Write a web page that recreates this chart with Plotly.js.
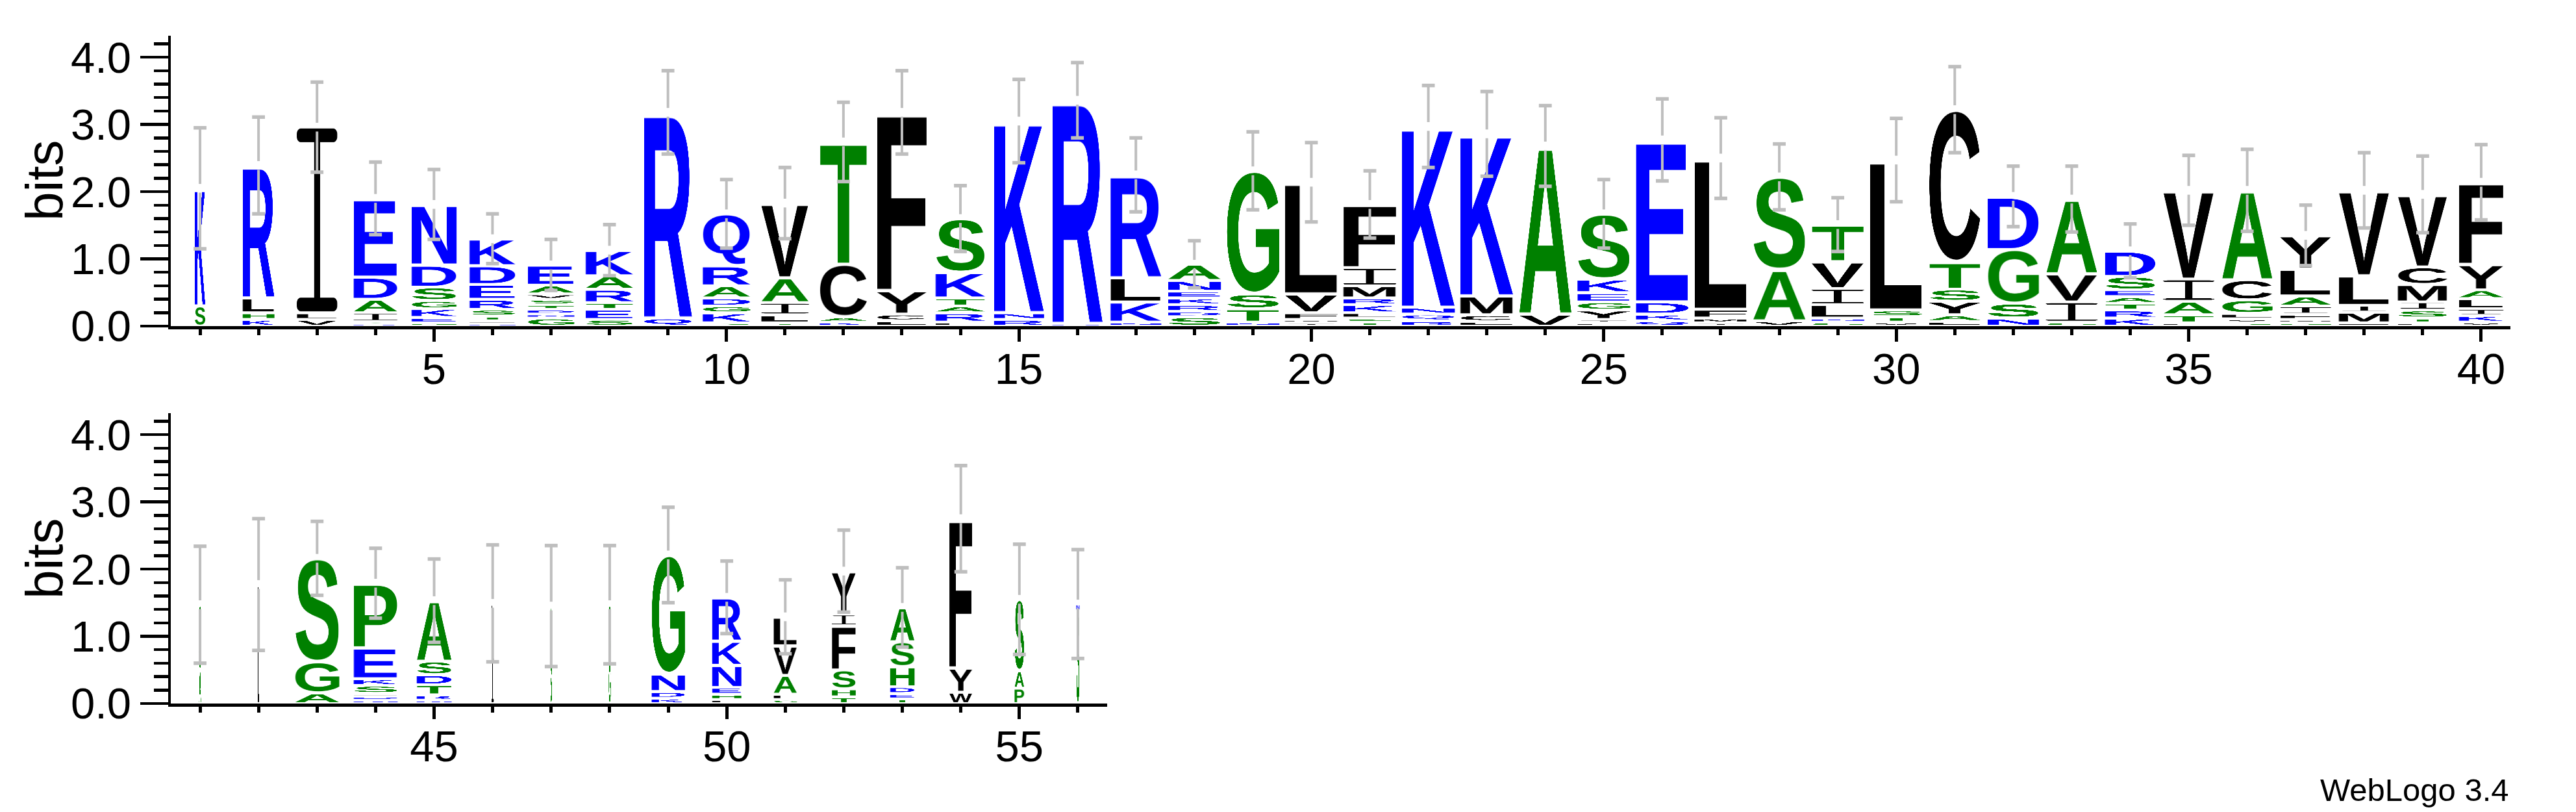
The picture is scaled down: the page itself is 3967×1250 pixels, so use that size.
<!DOCTYPE html>
<html><head><meta charset="utf-8">
<script src="https://cdn.plot.ly/plotly-3.0.1.min.js"></script>
<style>html,body{margin:0;padding:0;background:#fff;}#chart{width:3967px;height:1250px;}</style>
</head><body><div id="chart"></div>
<script>
// ---- data (letters listed bottom -> top, heights in bits) ----
const positions = [1,2,3,4,5,6,7,8,9,10,11,12,13,14,15,16,17,18,19,20,21,22,23,24,25,26,27,28,29,30,31,32,33,34,35,36,37,38,39,40,
                   41,42,43,44,45,46,47,48,49,50,51,52,53,54,55,56];
const stackLetters = ["SK","KHLR","VLI","KSIADE","GEKGSDN","NLTSREDK","GNDTSVAE","SETRAK","QR","SKGDARQ",
  "TLIAV","KACT","LCYF","LRATKS","RNK","KR","NKLR","SDRKENA","NTSG","IMFVL",
  "TSLKRMIF","RQNK","LCMK","VA","LIYGEKS","QKDE","IMFL","VAS","SNLIVT","VTSL",
  "LAYSTC","NSGD","SIVA","KRTAESD","LTAIV","SVLGCA","GMFIALY","FMILV","LTSIMCV","VKILAYF",
  "AS","LV","AGS","NDLSKEP","NRTDSA","IL","SA","GS","KDNG","LHENKR","GFAVL","THSFIY","TEDHSA","WYF","PAS","SN"];
const stackBits = [
  [0.30,1.75],[0.10,0.10,0.22,1.97],[0.10,0.10,2.76],[0.04,0.03,0.13,0.20,0.33,1.17],[0.05,0.08,0.13,0.12,0.20,0.33,0.90],
  [0.04,0.04,0.07,0.10,0.15,0.22,0.28,0.40],[0.12,0.06,0.07,0.07,0.08,0.08,0.13,0.30],[0.10,0.15,0.10,0.20,0.20,0.38],[0.12,3.06],[0.05,0.15,0.10,0.12,0.18,0.30,0.77],
  [0.05,0.12,0.18,0.37,1.11],[0.06,0.08,0.78,1.82],[0.08,0.10,0.35,2.65],[0.06,0.14,0.10,0.12,0.38,0.80],[0.10,0.10,2.85],
  [0.04,3.32],[0.06,0.30,0.36,1.53],[0.14,0.08,0.10,0.10,0.10,0.16,0.24],[0.06,0.20,0.22,1.83],[0.05,0.05,0.10,0.28,1.66],
  [0.06,0.06,0.08,0.12,0.10,0.18,0.27,0.94],[0.08,0.10,0.10,2.69],[0.07,0.10,0.28,2.41],[0.18,2.50],[0.05,0.05,0.14,0.12,0.14,0.20,0.97],
  [0.08,0.10,0.18,2.41],[0.05,0.07,0.13,2.25],[0.08,0.76,1.38],[0.06,0.06,0.20,0.24,0.40,0.55],[0.06,0.08,0.10,2.23],
  [0.07,0.10,0.20,0.18,0.40,2.27],[0.12,0.22,0.80,0.79],[0.06,0.30,0.42,1.11],[0.12,0.12,0.10,0.10,0.10,0.20,0.38],[0.05,0.12,0.20,0.33,1.32],
  [0.05,0.06,0.08,0.20,0.30,1.33],[0.05,0.05,0.08,0.12,0.15,0.40,0.50],[0.05,0.16,0.10,0.44,1.27],[0.05,0.07,0.12,0.12,0.26,0.26,1.08],[0.06,0.10,0.10,0.15,0.13,0.38,1.22],
  [0.50,0.97],[0.80,0.97],[0.16,0.46,1.54],[0.05,0.06,0.04,0.12,0.10,0.46,0.96],[0.05,0.08,0.15,0.15,0.20,0.90],
  [0.70,0.79],[0.60,0.85],[0.60,0.87],[0.08,0.10,0.26,1.77],[0.06,0.08,0.10,0.33,0.36,0.65],
  [0.06,0.08,0.28,0.44,0.43],[0.10,0.12,0.28,0.66,0.17,0.64],[0.07,0.08,0.10,0.30,0.37,0.51],[0.17,0.36,2.22],[0.23,0.26,1.06],[1.38,0.10]];
// fraction of full stack width (columns with many gaps are narrower)
const stackWidth = [0.20,0.60,0.76,0.83,0.85,0.87,0.88,0.90,0.91,0.90,0.90,0.90,0.94,0.94,0.95,0.95,0.96,1,1,1,
  1,1,1,1,1,1,1,1,1,1,0.98,0.97,0.97,0.96,0.96,0.96,0.96,0.96,0.94,0.84,
  0.04,0.03,0.84,0.83,0.66,0.04,0.03,0.04,0.63,0.55,0.44,0.45,0.46,0.43,0.18,0.06];
const errorBits = [0.90,0.72,0.67,0.54,0.52,0.37,0.38,0.38,0.62,0.51,0.53,0.59,0.62,0.49,0.62,0.56,0.55,0.35,0.58,0.59,
  0.50,0.61,0.63,0.60,0.51,0.61,0.60,0.49,0.40,0.62,0.64,0.45,0.49,0.40,0.52,0.61,0.45,0.56,0.57,0.56,
  0.87,0.98,0.55,0.52,0.62,0.87,0.90,0.88,0.71,0.54,0.55,0.61,0.59,0.79,0.82,0.81];
const yTickVals = [0,1,2,3,4];

// ---- colour scheme (hydrophobicity) ----
const blueSet = "RKDENQ", greenSet = "SGHTAP";
function letterColor(ch){
  if (blueSet.includes(ch)) return "#0000ff";
  if (greenSet.includes(ch)) return "#008000";
  return "#000000";
}

const FONT = '"Liberation Sans", Arial, Helvetica, sans-serif';
const cache = {};
function glyph(ch, col){
  const key = ch + col;
  if (cache[key]) return cache[key];
  const c = document.createElement('canvas');
  let ctx;
  if (ch === 'I') {
    // serifed capital I as drawn by WebLogo's font
    const W = 300, H = 1000, bar = 75, stem = 44, r = 30;
    c.width = W; c.height = H;
    ctx = c.getContext('2d');
    ctx.fillStyle = col;
    const rr = (x, y, w, h, rad) => {
      ctx.beginPath();
      if (ctx.roundRect) ctx.roundRect(x, y, w, h, rad); else ctx.rect(x, y, w, h);
      ctx.fill();
    };
    rr(0, 0, W, bar, r);
    rr(0, H - bar, W, bar, r);
    ctx.fillRect((W - stem) / 2, bar / 2, stem, H - bar);
  } else {
    const fs = 480;
    ctx = c.getContext('2d');
    ctx.font = 'bold ' + fs + 'px ' + FONT;
    const m = ctx.measureText(ch);
    const L = m.actualBoundingBoxLeft, R = m.actualBoundingBoxRight;
    const A = m.actualBoundingBoxAscent, D = m.actualBoundingBoxDescent;
    c.width = Math.max(1, Math.ceil(L + R));
    c.height = Math.max(1, Math.ceil(A + D));
    ctx = c.getContext('2d');
    ctx.font = 'bold ' + fs + 'px ' + FONT;
    ctx.fillStyle = col;
    ctx.textBaseline = 'alphabetic';
    ctx.fillText(ch, L, A);
  }
  cache[key] = c.toDataURL('image/png');
  return cache[key];
}

function draw(){
  const FULLW = 0.91, PAD = 0.02, GAP = 0.065, CAP = 0.11;
  const images = [];
  const ebx = [[],[]], eby = [[],[]], capx = [[],[]], capy = [[],[]];
  positions.forEach((p, i) => {
    const panel = p <= 40 ? 0 : 1;
    const xr = panel ? 'x2' : 'x', yr = panel ? 'y2' : 'y';
    const w = stackWidth[i] * FULLW;
    let y0 = 0;
    const letters = stackLetters[i].split('');
    letters.forEach((ch, k) => {
      const h = stackBits[i][k];
      const gh = Math.max(0.006, h - 2 * PAD);
      images.push({
        source: glyph(ch, letterColor(ch)), xref: xr, yref: yr,
        x: p - w / 2, y: y0 + h - PAD, sizex: w, sizey: gh,
        sizing: 'stretch', xanchor: 'left', yanchor: 'top', layer: 'below'
      });
      y0 += h;
    });
    const top = y0, e = errorBits[i];
    ebx[panel].push(p, p, null, p, p, null);
    eby[panel].push(top + GAP, top + e, null, top - GAP, top - e, null);
    capx[panel].push(p - CAP, p + CAP, null, p - CAP, p + CAP, null);
    capy[panel].push(top + e, top + e, null, top - e, top - e, null);
  });

  const traces = [];
  [0,1].forEach(pn => {
    const xa = pn ? 'x2' : 'x', ya = pn ? 'y2' : 'y';
    traces.push({type:'scatter', mode:'lines', x: ebx[pn], y: eby[pn], xaxis: xa, yaxis: ya,
      line:{color:'#bebebe', width:4}, hoverinfo:'skip', showlegend:false, cliponaxis:false});
    traces.push({type:'scatter', mode:'lines', x: capx[pn], y: capy[pn], xaxis: xa, yaxis: ya,
      line:{color:'#bebebe', width:5.5}, hoverinfo:'skip', showlegend:false, cliponaxis:false});
  });

  const W = 3967, H = 1250;
  const tickFont = {family: FONT, size: 67, color: '#000'};
  const yax = (dom, anchor) => ({
    domain: dom, anchor: anchor, range: [0, 4.32], tickmode: 'array', tickvals: yTickVals,
    tickformat: '.1f', ticks: 'outside', ticklen: 43, tickwidth: 4.5, tickcolor: '#000',
    showline: true, linewidth: 4.5, linecolor: '#000', showgrid: false, zeroline: false,
    tickfont: tickFont, fixedrange: true,
    minor: {dtick: 0.2, tick0: 0, ticks: 'outside', ticklen: 22, tickwidth: 4.5, tickcolor: '#000', showgrid: false}
  });
  const xax = (dom, anchor, rng) => ({
    domain: dom, anchor: anchor, range: rng, tickmode: 'linear', tick0: 0, dtick: 5,
    ticks: 'outside', ticklen: 19, tickwidth: 5, tickcolor: '#000', ticklabelstandoff: -15,
    showline: true, linewidth: 4.5, linecolor: '#000', showgrid: false, zeroline: false,
    tickfont: tickFont, fixedrange: true,
    minor: {dtick: 1, tick0: 0, ticks: 'outside', ticklen: 9, tickwidth: 5, tickcolor: '#000', showgrid: false}
  });
  const layout = {
    width: W, height: H, margin: {l:0, r:0, t:0, b:0},
    paper_bgcolor: '#fff', plot_bgcolor: 'rgba(0,0,0,0)', showlegend: false, hovermode: false,
    xaxis: xax([263/W, 3866/W], 'y', [0.5, 40.5]),
    yaxis: yax([1 - 502/H, 1 - 55/H], 'x'),
    xaxis2: xax([263/W, 1705/W], 'y2', [40.5, 56.5]),
    yaxis2: yax([1 - 1083/H, 1 - 636/H], 'x2'),
    images: images,
    annotations: [
      {text: 'bits', xref: 'paper', yref: 'paper', x: 69/W, y: 1 - 278/H, textangle: -90,
       showarrow: false, font: {family: FONT, size: 80, color: '#000'}, xanchor: 'center', yanchor: 'middle'},
      {text: 'bits', xref: 'paper', yref: 'paper', x: 69/W, y: 1 - 860/H, textangle: -90,
       showarrow: false, font: {family: FONT, size: 80, color: '#000'}, xanchor: 'center', yanchor: 'middle'},
      {text: 'WebLogo 3.4', xref: 'paper', yref: 'paper', x: 3866/W, y: 1 - 1245/H,
       showarrow: false, font: {family: FONT, size: 49, color: '#000'}, xanchor: 'right', yanchor: 'bottom'}
    ]
  };
  Plotly.newPlot('chart', traces, layout, {displayModeBar: false, staticPlot: true});
}

if (document.fonts && document.fonts.load) {
  document.fonts.load('bold 480px "Liberation Sans"').then(draw, draw);
} else { draw(); }
</script>
</body></html>
